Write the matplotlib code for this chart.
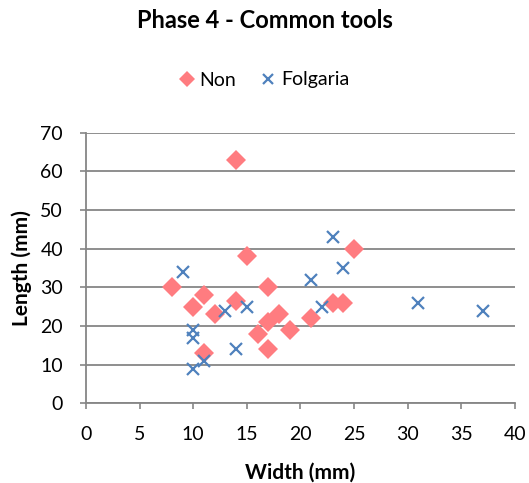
import matplotlib
matplotlib.use('Agg')
import matplotlib.pyplot as plt

# Datos
non_width = [8, 10, 11, 11, 12, 14, 14, 15, 16, 17, 17, 17, 18, 19, 21, 23, 24, 25]
non_length = [30, 25, 28, 13, 23, 63, 26.5, 38, 18, 30, 21, 14, 23, 19, 22, 26, 26, 40]

folg_width = [9, 10, 10, 10, 11, 13, 14, 15, 21, 22, 23, 24, 31, 37]
folg_length = [34, 19, 17, 9, 11, 24, 14, 25, 32, 25, 43, 35, 26, 24]

x_ticks = [0, 5, 10, 15, 20, 25, 30, 35, 40]
y_ticks = [0, 10, 20, 30, 40, 50, 60, 70]

plt.rcParams['font.family'] = ['Lato', 'DejaVu Sans']
grey = '#868686'

fig = plt.figure(figsize=(5.29, 4.83), dpi=100)
ax = fig.add_axes([0.1626, 0.165, 0.8109, 0.5603])

ax.plot(non_width, non_length, linestyle='none', marker='D', markersize=10,
        color='#FF7C80', markeredgewidth=0, label='Non')
ax.plot(folg_width, folg_length, linestyle='none', marker='x', markersize=9,
        markeredgewidth=1.6, color='#4F81BD', label='Folgaria')

ax.set_xlim(0, 40)
ax.set_ylim(0, 70)
ax.set_xticks(x_ticks)
ax.set_yticks(y_ticks)
ax.tick_params(labelsize=14, color=grey, width=1.2, length=4.5)
ax.tick_params(axis='x', pad=12)
ax.tick_params(axis='y', pad=12)
ax.yaxis.grid(True, color=grey, linewidth=1.3)
ax.set_axisbelow(True)
for side in ['top', 'right']:
    ax.spines[side].set_visible(False)
for side in ['left', 'bottom']:
    ax.spines[side].set_color(grey)
    ax.spines[side].set_linewidth(1.3)

ax.set_xlabel('Width (mm)', fontsize=15, fontweight='bold', labelpad=14)
ax.set_ylabel('Length (mm)', fontsize=15, fontweight='bold', labelpad=6)

fig.text(0.5, 1 - 21 / 483, 'Phase 4 - Common tools', ha='center', va='center',
         fontsize=17, fontweight='bold')
fig.legend(loc='center', bbox_to_anchor=(0.5, 1 - 80 / 483), ncol=2, frameon=False,
           fontsize=14, markerscale=0.85, handlelength=0.7, handletextpad=0.3,
           columnspacing=1.3)

fig.savefig('out.png', dpi=100)
